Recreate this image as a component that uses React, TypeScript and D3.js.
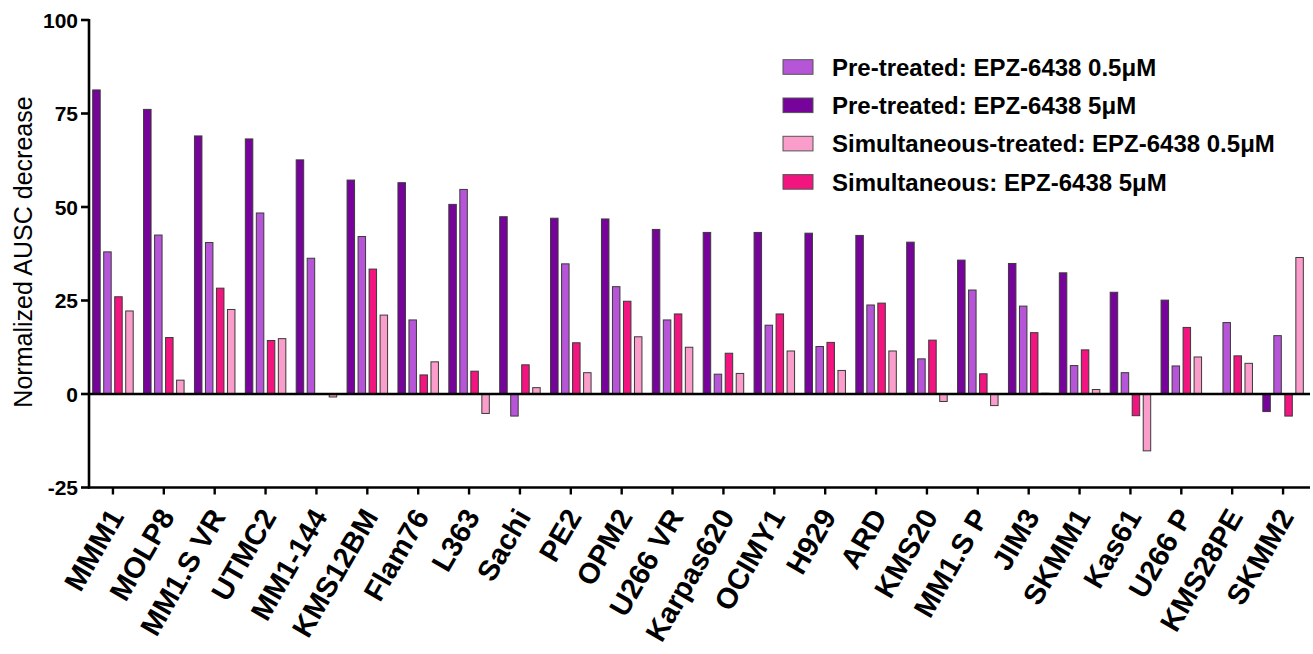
import * as d3 from 'd3';

const cellLines = [
  'MMM1', 'MOLP8', 'MM1.S VR', 'UTMC2', 'MM1-144', 'KMS12BM', 'Flam76', 'L363',
  'Sachi', 'PE2', 'OPM2', 'U266 VR', 'Karpas620', 'OCIMY1', 'H929', 'ARD',
  'KMS20', 'MM1.S P', 'JIM3', 'SKMM1', 'Kas61', 'U266 P', 'KMS28PE', 'SKMM2',
];

// Pre-treated: EPZ-6438 5µM
const pre5 = [81.3, 76.1, 69.0, 68.2, 62.6, 57.2, 56.5, 50.7, 47.4, 47.0, 46.8, 44.0,
  43.2, 43.2, 43.0, 42.4, 40.6, 35.8, 34.9, 32.4, 27.2, 25.1, 0, -4.7];
// Pre-treated: EPZ-6438 0.5µM
const pre05 = [38.0, 42.5, 40.5, 48.4, 36.3, 42.1, 19.8, 54.7, -5.9, 34.8, 28.7, 19.8,
  5.3, 18.4, 12.7, 23.8, 9.4, 27.8, 23.5, 7.6, 5.7, 7.5, 19.1, 15.6];
// Simultaneous: EPZ-6438 5µM
const sim5 = [26.0, 15.1, 28.3, 14.3, 0, 33.4, 5.1, 6.1, 7.8, 13.7, 24.8, 21.4,
  10.9, 21.4, 13.8, 24.3, 14.4, 5.4, 16.4, 11.8, -5.8, 17.8, 10.2, -5.9];
// Simultaneous-treated: EPZ-6438 0.5µM
const sim05 = [22.2, 3.7, 22.6, 14.8, -0.8, 21.1, 8.6, -5.2, 1.7, 5.7, 15.3, 12.5,
  5.5, 11.5, 6.3, 11.5, -2.0, -3.1, 0.2, 1.2, -15.2, 9.9, 8.2, 36.5];

const yTicks = [-25, 0, 25, 50, 75, 100];

interface Series {
  id: string;
  label: string;
  color: string;
  values: number[];
}

// bar order inside each group
const barSeries: Series[] = [
  { id: 'pre5', label: 'Pre-treated: EPZ-6438 5\u03bcM', color: '#76039a', values: pre5 },
  { id: 'pre05', label: 'Pre-treated: EPZ-6438 0.5\u03bcM', color: '#b655d7', values: pre05 },
  { id: 'sim5', label: 'Simultaneous: EPZ-6438 5\u03bcM', color: '#f2147f', values: sim5 },
  { id: 'sim05', label: 'Simultaneous-treated: EPZ-6438 0.5\u03bcM', color: '#fa9dca', values: sim05 },
];
const legendOrder = ['pre05', 'pre5', 'sim05', 'sim5'];

const W = 1313;
const H = 654;
const font = '"Liberation Sans", Arial, sans-serif';

export default function App() {
  const left = 89;
  const right = 1310;
  const top = 20;
  const bottom = 487.5;

  const x = d3.scaleBand<string>().domain(cellLines).range([left, right]);
  const inner = d3
    .scaleBand<string>()
    .domain(barSeries.map((s) => s.id))
    .range([3.7, 44.2])
    .paddingInner(0.32);
  const y = d3.scaleLinear().domain([-25, 100]).range([bottom, top]);
  const y0 = y(0);

  return (
    <svg
      width={W}
      height={H}
      style={{ position: 'absolute', left: 0, top: 0, background: '#fff' }}
      fontFamily={font}
    >
      {/* bars */}
      {cellLines.map((c, i) => (
        <g key={c} transform={`translate(${x(c)},0)`}>
          {barSeries.map((s) => {
            const v = s.values[i];
            const y1 = y(Math.max(0, v));
            const h = Math.abs(y(v) - y0);
            return (
              <rect
                key={s.id}
                x={inner(s.id)}
                y={y1}
                width={inner.bandwidth()}
                height={h}
                fill={s.color}
                stroke="#3a3a3a"
                strokeWidth={1}
              />
            );
          })}
        </g>
      ))}

      {/* zero line */}
      <line x1={left} x2={right} y1={y0} y2={y0} stroke="#000" strokeWidth={2.6} />

      {/* y axis */}
      <line x1={left} x2={left} y1={top - 1} y2={bottom + 1} stroke="#000" strokeWidth={2.6} />
      {yTicks.map((t) => (
        <g key={t}>
          <line x1={left - 8} x2={left} y1={y(t)} y2={y(t)} stroke="#000" strokeWidth={2.6} />
          <text
            x={left - 11}
            y={y(t)}
            dy="0.36em"
            textAnchor="end"
            fontSize={21}
            fontWeight="bold"
          >
            {t}
          </text>
        </g>
      ))}
      <text
        transform={`translate(32, 252) rotate(-90)`}
        textAnchor="middle"
        fontSize={25}
      >
        Normalized AUSC decrease
      </text>

      {/* x axis */}
      <line x1={left - 1} x2={right} y1={bottom} y2={bottom} stroke="#000" strokeWidth={2.6} />
      {cellLines.map((c) => {
        const cx = (x(c) ?? 0) + x.bandwidth() / 2 - 1.5;
        return (
          <g key={c}>
            <line x1={cx} x2={cx} y1={bottom} y2={bottom + 7} stroke="#000" strokeWidth={2.4} />
            <text
              transform={`translate(${cx + 3}, ${bottom + 24}) rotate(-60)`}
              textAnchor="end"
              dy="0.35em"
              fontSize={29}
              fontWeight="bold"
            >
              {c}
            </text>
          </g>
        );
      })}

      {/* legend */}
      {legendOrder.map((id, i) => {
        const s = barSeries.find((d) => d.id === id)!;
        const cy = 67 + i * 38.3;
        return (
          <g key={id}>
            <rect x={783} y={cy - 7.3} width={30} height={14.6} fill={s.color} stroke="#555" strokeWidth={1} />
            <text x={832} y={cy} dy="0.36em" fontSize={24} fontWeight="bold">
              {s.label}
            </text>
          </g>
        );
      })}
    </svg>
  );
}
